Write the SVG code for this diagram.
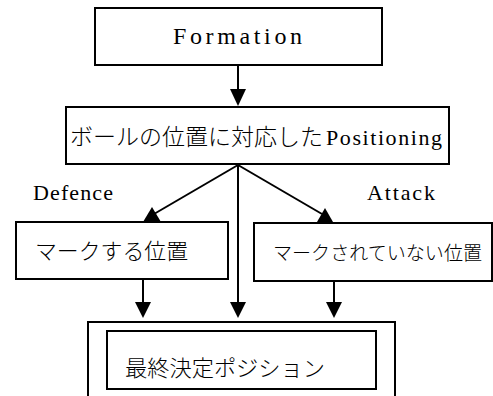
<svg xmlns="http://www.w3.org/2000/svg" width="493" height="396" viewBox="0 0 493 396">
<style>
.box{fill:#fff;stroke:#000;stroke-width:2}
.ln{stroke:#000;stroke-width:2;fill:none}
.ah{fill:#000}
.lat{font-family:"Liberation Serif","DejaVu Serif",serif;fill:#000}
.jp{font-family:"Noto Sans CJK JP","Noto Sans",sans-serif;font-weight:300;fill:#000}
</style>
<rect width="493" height="396" fill="#fff"/>
<g id="connectors">
<line class="ln" x1="238" y1="66" x2="238" y2="92"/>
<polygon class="ah" points="230,89 246,89 238,106"/>
<line class="ln" x1="238" y1="165" x2="154" y2="214"/>
<polygon class="ah" points="152,207 143,222 161,222"/>
<line class="ln" x1="238" y1="165" x2="322" y2="214"/>
<polygon class="ah" points="325,208 317,222 333,222"/>
<line class="ln" x1="238" y1="165" x2="238" y2="304"/>
<polygon class="ah" points="230,302 246,302 238,318"/>
<line class="ln" x1="143" y1="280" x2="143" y2="304"/>
<polygon class="ah" points="135,302 151,302 143,318"/>
<line class="ln" x1="334" y1="282" x2="334" y2="304"/>
<polygon class="ah" points="326,302 342,302 334,318"/>
</g>
<g id="formation">
<rect class="box" x="95" y="8" width="287" height="57"/>
<text class="lat" x="173" y="44" font-size="24" textLength="129" lengthAdjust="spacing">Formation</text>
</g>
<g id="positioning">
<rect class="box" x="66" y="107" width="383" height="57"/>
<text class="jp" x="70" y="145" font-size="23" textLength="253" lengthAdjust="spacingAndGlyphs">ボールの位置に対応した</text>
<text class="lat" x="326" y="145" font-size="22" textLength="116" lengthAdjust="spacing">Positioning</text>
</g>
<g id="defence-label">
<text class="lat" x="33" y="200" font-size="22" textLength="80" lengthAdjust="spacing">Defence</text>
</g>
<g id="attack-label">
<text class="lat" x="367" y="200" font-size="22" textLength="68" lengthAdjust="spacing">Attack</text>
</g>
<g id="mark">
<rect class="box" x="16" y="222" width="212" height="57"/>
<text class="jp" x="35" y="259" font-size="22" textLength="153" lengthAdjust="spacingAndGlyphs">マークする位置</text>
</g>
<g id="unmarked">
<rect class="box" x="254" y="223" width="238" height="58"/>
<text class="jp" x="273" y="260" font-size="19" textLength="209" lengthAdjust="spacingAndGlyphs">マークされていない位置</text>
</g>
<g id="final">
<path class="ln" d="M88,400 V322 H395 V400"/>
<rect class="box" x="107" y="331" width="269" height="58"/>
<text class="jp" x="125" y="376" font-size="22" textLength="200" lengthAdjust="spacingAndGlyphs">最終決定ポジション</text>
</g>
</svg>
